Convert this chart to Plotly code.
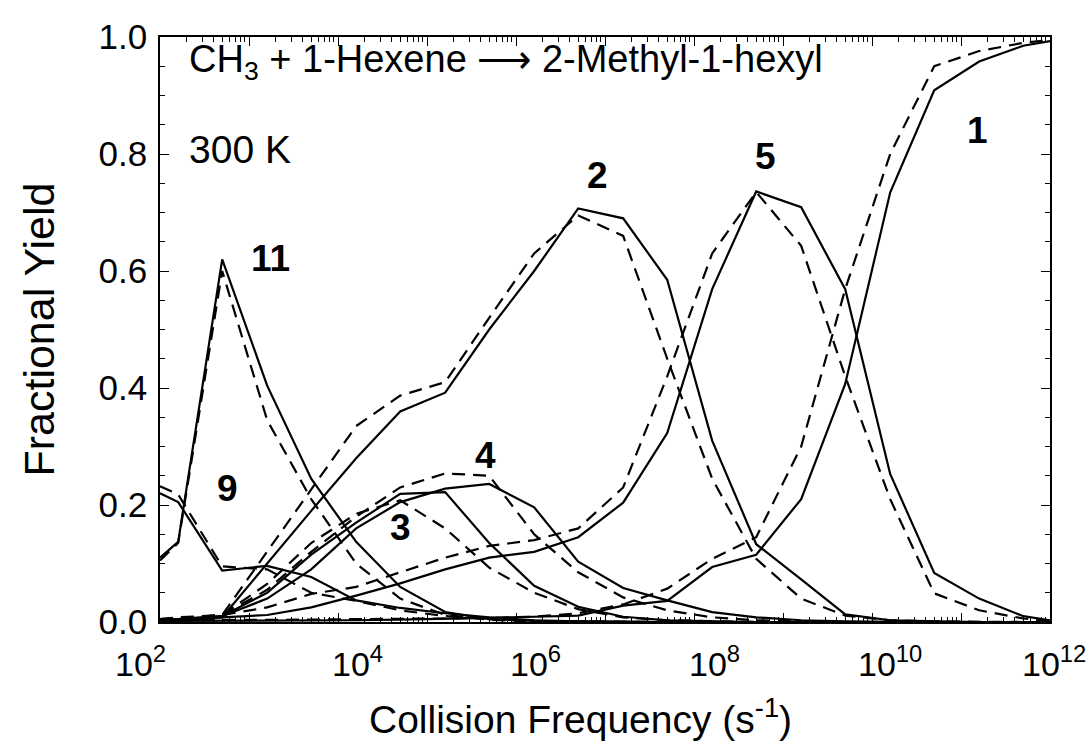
import math
import plotly.graph_objects as go

# Collision frequency grid (s^-1)
freq = [1e2, 1.6e2, 5e2, 1.6e3, 5e3, 1.6e4, 5e4, 1.6e5, 5e5, 1.6e6, 5e6,
        1.6e7, 5e7, 1.6e8, 5e8, 1.6e9, 5e9, 1.6e10, 5e10, 1.6e11, 5e11, 1e12]

# Fractional yields, solid = one model, dashed = the other
y1_solid = [0.002, 0.002, 0.003, 0.003, 0.003, 0.003, 0.004, 0.005, 0.007, 0.009, 0.011,
            0.028, 0.036, 0.094, 0.115, 0.21, 0.407, 0.734, 0.909, 0.958, 0.985, 0.993]
y1_dash = [0.003, 0.003, 0.004, 0.004, 0.004, 0.005, 0.005, 0.006, 0.007, 0.009, 0.015,
           0.03, 0.057, 0.108, 0.145, 0.30, 0.569, 0.80, 0.95, 0.976, 0.99, 0.995]

y2_solid = [0.003, 0.004, 0.008, 0.10, 0.19, 0.28, 0.36, 0.392, 0.50, 0.60, 0.707,
            0.69, 0.585, 0.31, 0.133, 0.073, 0.013, 0.003, 0.001, 0.0, 0.0, 0.0]
y2_dash = [0.005, 0.008, 0.012, 0.12, 0.227, 0.335, 0.387, 0.41, 0.52, 0.63, 0.695,
           0.66, 0.45, 0.245, 0.108, 0.04, 0.011, 0.003, 0.001, 0.0, 0.0, 0.0]

y3_solid = [0.004, 0.005, 0.01, 0.05, 0.115, 0.17, 0.219, 0.222, 0.135, 0.062, 0.026,
            0.009, 0.003, 0.001, 0.0, 0.0, 0.0, 0.0, 0.0, 0.0, 0.0, 0.0]
y3_dash = [0.005, 0.006, 0.012, 0.065, 0.135, 0.185, 0.208, 0.16, 0.093, 0.05, 0.022,
           0.008, 0.003, 0.001, 0.0, 0.0, 0.0, 0.0, 0.0, 0.0, 0.0, 0.0]

y4_solid = [0.004, 0.005, 0.01, 0.04, 0.09, 0.16, 0.205, 0.228, 0.236, 0.196, 0.103,
            0.058, 0.037, 0.017, 0.008, 0.003, 0.001, 0.0, 0.0, 0.0, 0.0, 0.0]
y4_dash = [0.005, 0.006, 0.012, 0.055, 0.12, 0.18, 0.23, 0.254, 0.25, 0.15, 0.085,
           0.042, 0.02, 0.008, 0.003, 0.001, 0.0, 0.0, 0.0, 0.0, 0.0, 0.0]

y5_solid = [0.002, 0.003, 0.008, 0.012, 0.025, 0.045, 0.066, 0.09, 0.11, 0.12, 0.145,
            0.204, 0.323, 0.569, 0.736, 0.709, 0.569, 0.253, 0.084, 0.04, 0.01, 0.003]
y5_dash = [0.003, 0.004, 0.012, 0.025, 0.048, 0.06, 0.085, 0.11, 0.13, 0.14, 0.16,
           0.23, 0.42, 0.63, 0.735, 0.643, 0.42, 0.21, 0.049, 0.02, 0.006, 0.002]

y9_solid = [0.22, 0.205, 0.088, 0.096, 0.077, 0.037, 0.024, 0.015, 0.008, 0.003, 0.001,
            0.0, 0.0, 0.0, 0.0, 0.0, 0.0, 0.0, 0.0, 0.0, 0.0, 0.0]
y9_dash = [0.232, 0.218, 0.095, 0.09, 0.05, 0.036, 0.02, 0.01, 0.005, 0.002, 0.001,
           0.0, 0.0, 0.0, 0.0, 0.0, 0.0, 0.0, 0.0, 0.0, 0.0, 0.0]

y11_solid = [0.11, 0.137, 0.62, 0.404, 0.245, 0.137, 0.06, 0.017, 0.005, 0.002, 0.001,
             0.0, 0.0, 0.0, 0.0, 0.0, 0.0, 0.0, 0.0, 0.0, 0.0, 0.0]
y11_dash = [0.105, 0.135, 0.60, 0.345, 0.21, 0.10, 0.04, 0.012, 0.004, 0.001, 0.0,
            0.0, 0.0, 0.0, 0.0, 0.0, 0.0, 0.0, 0.0, 0.0, 0.0, 0.0]

series = [
    ("1", y1_solid, y1_dash),
    ("2", y2_solid, y2_dash),
    ("3", y3_solid, y3_dash),
    ("4", y4_solid, y4_dash),
    ("5", y5_solid, y5_dash),
    ("9", y9_solid, y9_dash),
    ("11", y11_solid, y11_dash),
]

# Curve label positions (frequency, yield)
label_names = ["11", "9", "3", "4", "2", "5", "1"]
label_x = [1.75e3, 5.8e2, 5.0e4, 4.5e5, 8.3e6, 6.3e8, 1.55e11]
label_y = [0.622, 0.229, 0.161, 0.285, 0.764, 0.795, 0.841]

# Labelled decades on the frequency axis
xlabel_vals = [1e2, 1e4, 1e6, 1e8, 1e10, 1e12]
xlabel_text = ["10<sup>2</sup>", "10<sup>4</sup>", "10<sup>6</sup>",
               "10<sup>8</sup>", "10<sup>10</sup>", "10<sup>12</sup>"]
xlabel_shift = [-47, -8, -8, -7, -16, -30]

FONT = "Liberation Sans, Arial, Helvetica, sans-serif"

fig = go.Figure()
for name, ys, yd in series:
    fig.add_trace(go.Scatter(x=freq, y=ys, mode="lines", name=name + " solid",
                             line=dict(color="black", width=2.2)))
    fig.add_trace(go.Scatter(x=freq, y=yd, mode="lines", name=name + " dashed",
                             line=dict(color="black", width=2.2, dash="13px,8px")))

# Annotations on a log axis take log10 coordinates
for t, lx, ly in zip(label_names, label_x, label_y):
    fig.add_annotation(x=math.log10(lx), y=ly, xref="x", yref="y",
                       text="<b>" + t + "</b>", showarrow=False,
                       font=dict(family=FONT, size=37, color="black"),
                       xanchor="center", yanchor="middle")

for v, t, s in zip(xlabel_vals, xlabel_text, xlabel_shift):
    fig.add_annotation(x=math.log10(v), y=0, xref="x", yref="paper", text=t,
                       showarrow=False, xanchor="left", yanchor="top",
                       xshift=s, yshift=-16,
                       font=dict(family=FONT, size=34, color="black"))

fig.add_annotation(x=0.03, y=0.958, xref="paper", yref="paper",
                   text="CH<sub>3</sub> + 1-Hexene \u27f6 2-Methyl-1-hexyl",
                   showarrow=False, xanchor="left", yanchor="middle",
                   font=dict(family=FONT, size=38, color="black"))
fig.add_annotation(x=0.03, y=0.807, xref="paper", yref="paper", text="300 K",
                   showarrow=False, xanchor="left", yanchor="middle",
                   font=dict(family=FONT, size=39, color="black"))

# Axis titles
fig.add_annotation(x=0.472, y=-0.162, xref="paper", yref="paper",
                   text="Collision Frequency (s<sup>-1</sup>)", showarrow=False,
                   xanchor="center", yanchor="middle",
                   font=dict(family=FONT, size=39, color="black"))
fig.add_annotation(x=-0.137, y=0.5, xref="paper", yref="paper",
                   text="Fractional Yield", showarrow=False, textangle=-90,
                   xanchor="center", yanchor="middle",
                   font=dict(family=FONT, size=43, color="black"))

decades = [1e2, 1e3, 1e4, 1e5, 1e6, 1e7, 1e8, 1e9, 1e10, 1e11, 1e12]
minor_x = [m * d for d in decades[:-1] for m in range(2, 10)]

fig.update_xaxes(type="log", range=[2, 12], tickmode="array", tickvals=decades,
                 showticklabels=False, ticks="inside", ticklen=9, tickwidth=1,
                 tickcolor="black", showline=True, linecolor="black", linewidth=1.5,
                 mirror="ticks", showgrid=False, zeroline=False,
                 minor=dict(tickmode="array", tickvals=minor_x, ticks="inside",
                            ticklen=5, tickcolor="black", showgrid=False))
fig.update_yaxes(range=[0, 1], tickmode="array",
                 tickvals=[0, 0.2, 0.4, 0.6, 0.8, 1.0],
                 ticktext=["0.0", "0.2", "0.4", "0.6", "0.8", "1.0"],
                 ticks="inside", ticklen=9, tickwidth=1, tickcolor="black",
                 showline=True, linecolor="black", linewidth=1.5, mirror="ticks",
                 showgrid=False, zeroline=False, ticklabelstandoff=4,
                 tickfont=dict(family=FONT, size=35, color="black"),
                 minor=dict(dtick=0.05, ticks="inside", ticklen=5,
                            tickcolor="black", showgrid=False))

fig.update_layout(width=1087, height=750, showlegend=False,
                  plot_bgcolor="white", paper_bgcolor="white",
                  margin=dict(l=160, r=37, t=37, b=128),
                  font=dict(family=FONT, color="black"))

fig.write_html("out.html")
